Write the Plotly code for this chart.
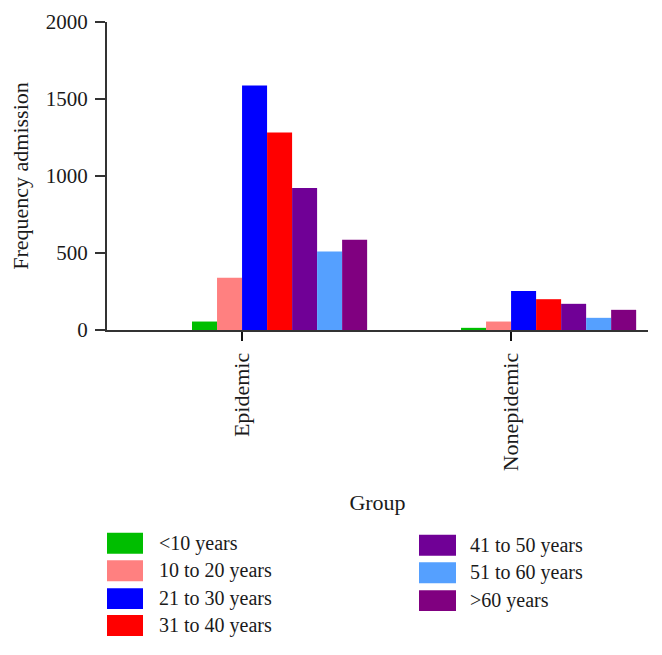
import plotly.graph_objects as go

# ---- data ----
groups = ["Epidemic", "Nonepidemic"]
series_names = ["<10 years", "10 to 20 years", "21 to 30 years", "31 to 40 years",
                "41 to 50 years", "51 to 60 years", ">60 years"]
epidemic = [55, 340, 1587, 1283, 922, 510, 586]
nonepidemic = [14, 55, 254, 200, 170, 79, 131]
colors = ["#00BE00", "#FF8080", "#0000FF", "#FF0000", "#700096", "#55A0FF", "#800080"]
y_ticks = [0, 500, 1000, 1500, 2000]

OFF = 8  # page body margin in the browser
W, H = 662 - OFF, 655 - OFF
ML, MR, MT = 107 - OFF, 14, 21.5 - OFF
PB = 330.5 - OFF            # plot bottom, figure px
MB = H - PB
PW, PH = W - ML - MR, PB - MT

FONT = "Liberation Serif"
TXT = "#1a1a1a"
AX = "#333333"

bar_w = 0.093
x_pos = list(range(len(groups)))

fig = go.Figure()
for i, name in enumerate(series_names):
    fig.add_trace(go.Bar(
        x=x_pos, y=[epidemic[i], nonepidemic[i]], name=name,
        marker=dict(color=colors[i], line=dict(width=0)),
        width=bar_w, offset=(i - 2) * bar_w, showlegend=False,
    ))

def px_x(p):
    return (p - OFF - ML) / PW

def px_y(p):
    return (PB - (p - OFF)) / PH

# manual legend (two columns) built from the series lists
shapes, annots = [], []
left_rows = [544.5, 572, 600, 627]
right_rows = [546.5, 574, 602]
for i, name in enumerate(series_names):
    if i < 4:
        sx0, sx1, tx, cy = 107, 143, 157, left_rows[i]
    else:
        sx0, sx1, tx, cy = 419, 456, 468, right_rows[i - 4]
    shapes.append(dict(type="rect", xref="paper", yref="paper",
                       x0=px_x(sx0), x1=px_x(sx1), y0=px_y(cy + 10.5), y1=px_y(cy - 10.5),
                       fillcolor=colors[i], line=dict(width=0)))
    annots.append(dict(text=name, xref="paper", yref="paper", x=px_x(tx), y=px_y(cy),
                       xanchor="left", yanchor="middle", showarrow=False,
                       font=dict(family=FONT, size=20, color=TXT)))

fig.update_layout(
    width=W, height=H,
    margin=dict(l=ML, r=MR, t=MT, b=MB, autoexpand=False),
    paper_bgcolor="white", plot_bgcolor="white",
    barmode="overlay", showlegend=False,
    font=dict(family=FONT, size=20, color=TXT),
    shapes=shapes, annotations=annots,
    xaxis=dict(
        range=[-0.502, 1.509], tickvals=x_pos, ticktext=groups, tickangle=-90,
        showgrid=False, zeroline=False, showline=True, linecolor=AX, linewidth=2,
        ticks="outside", ticklen=9, tickwidth=2, tickcolor="#111",
        ticklabelstandoff=3,
        tickfont=dict(family=FONT, size=22, color=TXT),
        title=dict(text="Group", standoff=24, font=dict(family=FONT, size=22, color=TXT)),
    ),
    yaxis=dict(
        range=[0, 2000], tickvals=y_ticks, showgrid=False, zeroline=False,
        showline=True, linecolor=AX, linewidth=2,
        ticks="outside", ticklen=10, tickwidth=2, tickcolor=AX,
        ticklabelstandoff=3,
        tickfont=dict(family=FONT, size=21, color=TXT),
        title=dict(text="Frequency admission", standoff=14,
                   font=dict(family=FONT, size=22, color=TXT)),
    ),
)

fig.write_html("out.html")
